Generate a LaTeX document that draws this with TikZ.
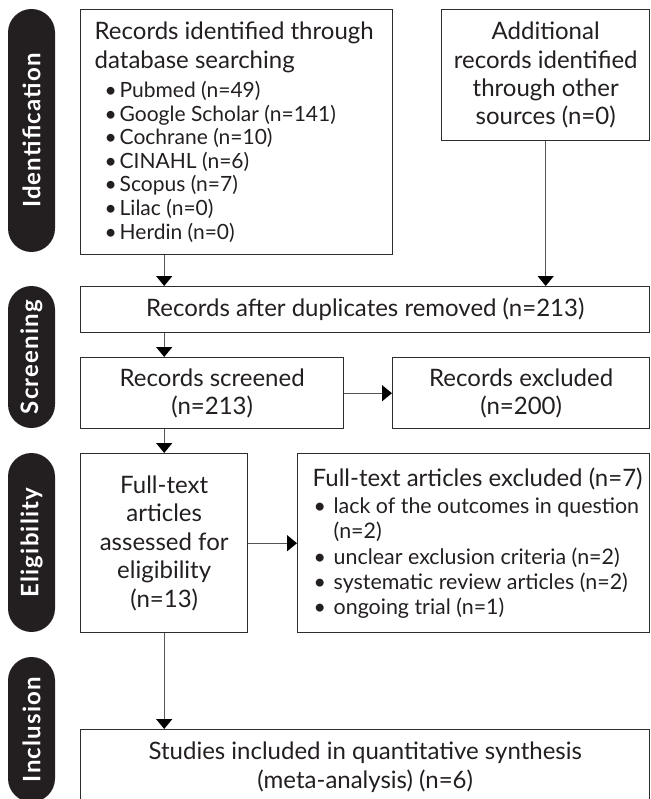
\documentclass[tikz,border=0pt]{standalone}
\usepackage{fontspec}
\setmainfont{Lato}
\usetikzlibrary{arrows.meta}
\usepackage{xcolor}
\definecolor{prDark}{RGB}{35, 31, 32}
\definecolor{prLine}{RGB}{45, 45, 45}
\definecolor{prArrow}{RGB}{85, 85, 85}
\newcommand{\prMain}{\fontsize{24}{28.4}\selectfont}
\newcommand{\prDot}[2]{\makebox[#2][l]{\hspace*{#1}•}}

\begin{document}
\begin{tikzpicture}[x=1pt, y=-1pt,
          box/.style={draw=prLine, line width=1.4pt, align=center, font=\prMain,
                      text=prDark, inner sep=0pt, anchor=north west},
          stage/.style={fill=prDark, rounded corners=23.5pt, minimum height=47pt,
                        inner sep=0pt, text=white, rotate=90,
                        font=\fontsize{24}{28}\selectfont\bfseries\addfontfeatures{LetterSpace=5}},
          arr/.style={draw=prArrow, line width=1.4pt,
                      -{Triangle[width=16pt, length=10pt, color=black]}}]
        \useasboundingbox (0,0) rectangle (650,799);
        % stages
        \node[stage, minimum width=243pt] (idlab) at (31.5,130.5) {Identification};
        \node[stage, minimum width=142pt] (sclab) at (31.5,357) {Screening};
        \node[stage, minimum width=179pt] (ellab) at (31.5,542.5) {Eligibility};
        \node[stage, minimum width=145pt] (inlab) at (31.5,729.5) {Inclusion};
        % boxes
        \node[box, align=flush left, text width=312pt,
              minimum height=245pt] (srch) at (80,9)
              {\leftskip=14pt
               {\prMain Records identified through\\database searching\par}\vspace{5.8pt}
               \fontsize{21}{23.6}\selectfont
               \prDot{10pt}{25pt}Pubmed (n=49)\\
               \prDot{10pt}{25pt}Google Scholar (n=141)\\
               \prDot{10pt}{25pt}Cochrane (n=10)\\
               \prDot{10pt}{25pt}CINAHL (n=6)\\
               \prDot{10pt}{25pt}Scopus (n=7)\\
               \prDot{10pt}{25pt}Lilac (n=0)\\
               \prDot{10pt}{25pt}Herdin (n=0)\par};
        \node[box, minimum width=208pt, minimum height=131pt] (other) at (441,9)
              {Additional\\records identified\\through other\\sources (n=0)};
        \node[box, minimum width=569pt, minimum height=46pt] (dup) at (80,286)
              {Records after duplicates removed (n=213)};
        \node[box, minimum width=263pt, minimum height=71pt] (scr) at (80,357)
              {Records screened\\(n=213)};
        \node[box, minimum width=257pt, minimum height=71pt] (excl) at (392,357)
              {Records excluded\\(n=200)};
        \node[box, minimum width=167pt, minimum height=179pt] (full) at (80,453)
              {Full-text\\articles\\assessed for\\eligibility\\(n=13)};
        \node[box, align=flush left, text width=352pt,
              minimum height=179pt] (ftex) at (297,453)
              {\leftskip=15pt
               {\prMain Full-text articles excluded (n=7)\par}\vspace{2.1pt}
               \fontsize{21.4}{25.3}\selectfont
               \prDot{1pt}{21pt}lack of the outcomes in question\\
               \hspace*{21pt}(n=2)\\
               \prDot{1pt}{21pt}unclear exclusion criteria (n=2)\\
               \prDot{1pt}{21pt}systematic review articles (n=2)\\
               \prDot{1pt}{21pt}ongoing trial (n=1)\par};
        \node[box, minimum width=569pt, minimum height=75pt] (incl) at (80,729)
              {Studies included in quantitative synthesis\\(meta-analysis) (n=6)};
        % arrows
        \draw[arr] (srch.south -| full.north) -- (dup.north -| full.north);
        \draw[arr] (other.south) -- (other.south |- dup.north);
        \draw[arr] (dup.south -| full.north) -- (scr.north -| full.north);
        \draw[arr] (scr.east) -- (scr.east -| excl.west);
        \draw[arr] (scr.south -| full.north) -- (full.north);
        \draw[arr] (full.east) -- (full.east -| ftex.west);
        \draw[arr] (full.south) -- (incl.north -| full.south);
      \end{tikzpicture}
\end{document}
